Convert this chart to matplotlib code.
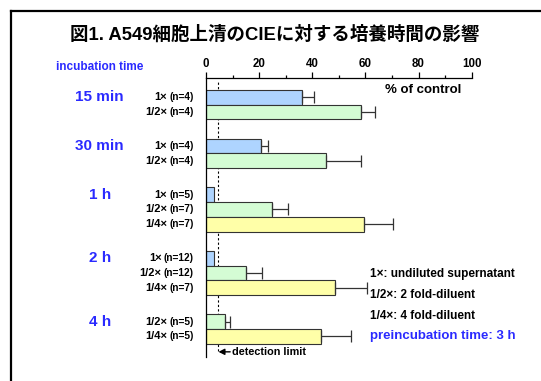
import numpy as np
import matplotlib
matplotlib.use("Agg")
import matplotlib.pyplot as plt
from matplotlib.lines import Line2D
from matplotlib.transforms import blended_transform_factory, offset_copy

plt.rcParams['font.family'] = ['Liberation Sans', 'Noto Sans CJK JP', 'DejaVu Sans']
plt.rcParams['font.weight'] = 'bold'

# incubation groups and the samples measured in each
groups = ["15 min", "30 min", "1 h", "2 h", "4 h"]
dilutions = [["1×", "1/2×"],
             ["1×", "1/2×"],
             ["1×", "1/2×", "1/4×"],
             ["1×", "1/2×", "1/4×"],
             ["1/2×", "1/4×"]]
n_counts = [[4, 4], [4, 4], [5, 7, 7], [12, 12, 7], [5, 5]]
# % of control (mean) and SD; None = no error bar
means = [[36.2, 58.4], [20.8, 45.3], [3.0, 24.7, 59.6], [3.0, 15.1, 48.7], [7.3, 43.4]]
sds = [[4.4, 5.2], [2.6, 13.1], [None, 6.2, 10.8], [None, 5.8, 11.8], [1.8, 11.0]]
detection_limit = 4.5

x_ticks = [0, 20, 40, 60, 80, 100]
notes = ["1×: undiluted supernatant", "1/2×: 2 fold-diluent", "1/4×: 4 fold-diluent"]

colors = {"1×": "#aed4ff", "1/2×": "#d4fcd4", "1/4×": "#ffffa8"}
blue_txt = "#2a2aff"

fig = plt.figure(figsize=(5.41, 3.81), dpi=100)
ax = fig.add_axes([206 / 541, 1 - 357 / 381, 265.7 / 541, 279 / 381])

# lay the bars out top to bottom, one unit per bar, gap between groups
gap = 1.3
pos = 0.0
first_centers = []
for gi, grp in enumerate(groups):
    for bi, dil in enumerate(dilutions[gi]):
        yc = pos + bi + 0.5
        if bi == 0:
            first_centers.append(yc)
        ax.barh(yc, means[gi][bi], height=1.0, color=colors[dil],
                edgecolor="#333333", linewidth=0.8, zorder=2)
        if sds[gi][bi] is not None:
            ax.errorbar(means[gi][bi], yc, xerr=[[0], [sds[gi][bi]]], fmt="none",
                        ecolor="#333333", elinewidth=0.9, capsize=4.2,
                        capthick=0.9, zorder=3)
        # sample label: dilution in larger type, n in smaller
        tr = blended_transform_factory(ax.transAxes, ax.transData)
        t_n = ax.text(-12 / 265.7, yc, "(n=%d)" % n_counts[gi][bi], transform=tr,
                      ha="right", va="center", fontsize=7.3)
        fig.canvas.draw()
        w = t_n.get_window_extent().width
        ax.text(-12 / 265.7, yc, dil, ha="right", va="center", fontsize=8,
                transform=offset_copy(tr, fig=fig, x=-(w + 2.5), units="dots"))
    pos += len(dilutions[gi]) + gap

ax.set_xlim(0, 100)
ax.set_ylim(18.1, -0.81)

# detection limit
ax.axvline(detection_limit, ymin=0.02, ymax=0.99, color="black", lw=0.8,
           linestyle=(0, (2, 2)), zorder=1)
ax.annotate("", xy=(detection_limit + 0.2, 17.75), xytext=(detection_limit + 4.6, 17.75),
            arrowprops=dict(arrowstyle="-|>,head_length=0.35,head_width=0.18",
                            color="black", lw=1.0, shrinkA=0, shrinkB=0))
ax.text(detection_limit + 5.3, 17.75, "detection limit", ha="left", va="center",
        fontsize=7.8)

# axis styling: scale on top, only left and top spines
for s in ["right", "bottom"]:
    ax.spines[s].set_visible(False)
for s in ["left", "top"]:
    ax.spines[s].set_linewidth(0.9)
ax.xaxis.set_ticks_position("top")
ax.set_xticks(x_ticks)
ax.set_xticks(np.arange(10, 100, 20), minor=True)
ax.tick_params(axis="x", which="major", length=4, width=0.9, pad=2, labelsize=8.3)
ax.tick_params(axis="x", which="minor", length=2.5, width=0.9)
ax.set_yticks([])
ax.text(385 / 541, 1 - 90 / 381, "% of control", transform=fig.transFigure,
        ha="left", va="center", fontsize=9.5)

# group labels
for grp, yc in zip(groups, first_centers):
    ax.text(99.7 / 541, yc, grp, ha="center", va="center", fontsize=11,
            color=blue_txt,
            transform=blended_transform_factory(fig.transFigure, ax.transData))

fig.text(99.7 / 541, 1 - 67 / 381, "incubation time", ha="center", va="center",
         fontsize=8.5, color=blue_txt)

fig.text(274.5 / 541, 1 - 34.4 / 381, "図1. A549細胞上清のCIEに対する培養時間の影響",
         ha="center", va="center", fontsize=13.3)

for i, (note, ypx) in enumerate(zip(notes, [274.5, 295, 315.9])):
    fig.text(370 / 541, 1 - ypx / 381, note, ha="left", va="center", fontsize=8.5)
fig.text(370 / 541, 1 - 335.5 / 381, "preincubation time: 3 h", ha="left",
         va="center", fontsize=9.5, color=blue_txt)

# frame around the figure
fig.add_artist(Line2D([10.5 / 541, 1], [1 - 10.5 / 381, 1 - 10.5 / 381],
                      transform=fig.transFigure, color="black", lw=1.6))
fig.add_artist(Line2D([10.5 / 541, 10.5 / 541], [0, 1 - 10.5 / 381],
                      transform=fig.transFigure, color="black", lw=1.6))

fig.savefig("out.png", dpi=100)
